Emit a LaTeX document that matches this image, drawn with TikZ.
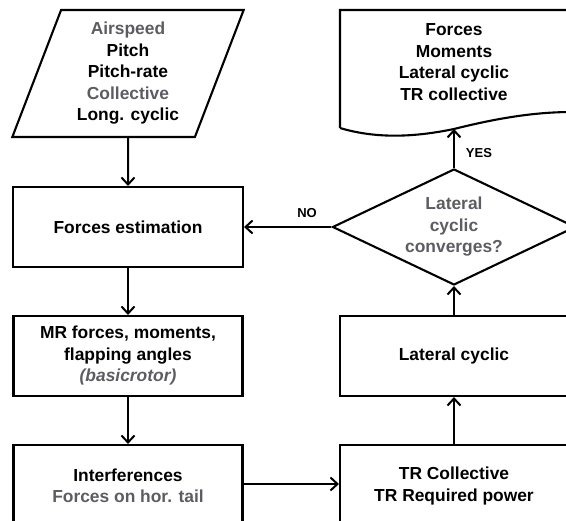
\documentclass[tikz,border=0pt]{standalone}
\usepackage{fontspec}
\setmainfont{Liberation Sans}
\usetikzlibrary{shapes.geometric,arrows.meta}
\definecolor{txtgrey}{RGB}{92,92,98}
\begin{document}
\begin{tikzpicture}[x=1pt,y=-1pt,
  line width=2.1pt,
  txt/.style={align=center, inner sep=0pt,
    font=\fontsize{17.4}{21.5}\selectfont\bfseries},
  box/.style={txt, draw, rectangle},
  lbl/.style={inner sep=0pt, font=\fontsize{13}{14}\selectfont\bfseries},
  flow/.style={-{Straight Barb[length=7pt,width=13pt,line width=2pt]}, line width=2pt}]
\useasboundingbox (0,0) rectangle (566,521);
\clip (0,0) rectangle (566,521);

% input data
\node[txt, draw, trapezium, trapezium left angle=70, trapezium right angle=110,
      trapezium stretches=true, minimum width=232, minimum height=127]
  (inp) at (128,73.5)
  {{\color{txtgrey}Airspeed}\\Pitch\\Pitch-rate\\{\color{txtgrey}Collective}\\Long. cyclic};

% left column
\node[box, minimum width=230, minimum height=80] (fe) at (128,227) {Forces estimation};
\node[box, minimum width=229, minimum height=80] (mr) at (128,356)
  {MR forces, moments,\\flapping angles\\{\color{txtgrey}\itshape(basicrotor)}};
\node[box, minimum width=229, minimum height=82] (intf) at (128,486)
  {Interferences\\{\color{txtgrey}Forces on hor. tail}};

% right column
\node[box, minimum width=228, minimum height=82] (tr) at (454,486)
  {TR Collective\\TR Required power};
\node[box, minimum width=228, minimum height=80] (lat) at (454,356) {Lateral cyclic};
\node[txt, draw, diamond, aspect=2.09, minimum width=243, minimum height=116,
      text=txtgrey] (dec) at (454,227) {Lateral\\cyclic\\converges?};

% output document
\node[txt] (outp) at (454,62) {Forces\\Moments\\Lateral cyclic\\TR collective};
\draw (340,128) -- (340,10) -- (572,10) -- (572,112)
  .. controls (530,112) and (490,120) .. (454,129)
  .. controls (420,136) and (380,140) .. (340,128);
\coordinate (outb) at (454,129);

% connectors
\draw[flow] (inp.south) -- (fe.north);
\draw[flow] (fe.south) -- (mr.north);
\draw[flow] (mr.south) -- (intf.north);
\draw[flow] (intf.east |- 0,484) -- (tr.west |- 0,484);
\draw[flow] (tr.north) -- (lat.south);
\draw[flow] (lat.north) -- (dec.south);
\draw[flow] (dec.west) -- (fe.east);
\draw[flow] (dec.north) -- (outb);

\node[lbl] (no) at (307,213) {NO};
\node[lbl] (yes) at (479,153) {YES};
\end{tikzpicture}
\end{document}
